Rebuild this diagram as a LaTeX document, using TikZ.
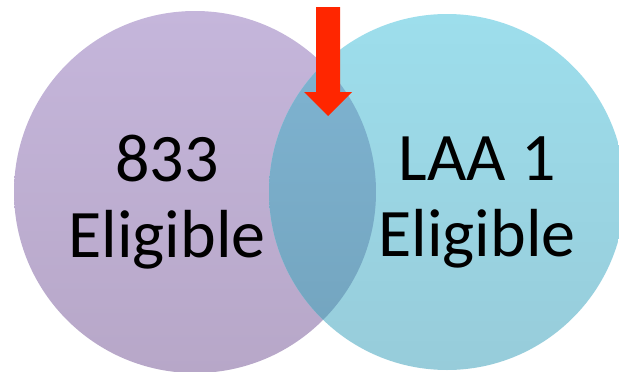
\documentclass[tikz,border=0pt]{standalone}
\usepackage{fontspec}
\setmainfont{Carlito}
\definecolor{violetHaut}{HTML}{C5B6DB}
\definecolor{violetBas}{HTML}{B7A7C8}
\definecolor{cyanHaut}{HTML}{9DDEEC}
\definecolor{cyanBas}{HTML}{97CCDA}
\definecolor{mixHaut}{HTML}{80B5D3}
\definecolor{mixBas}{HTML}{72A3BD}
\definecolor{flecheRouge}{HTML}{FF2600}
\tikzset{
  etiquette/.style={align=center, inner sep=0pt, text=black,
    font=\fontsize{68}{76}\selectfont}
}
\begin{document}
\begin{tikzpicture}[x=1pt,y=-1pt]

\def \RayonG {181pt}
\def \RayonD {178pt}
\coordinate (G) at (195,192);
\coordinate (D) at (447,192);
\useasboundingbox (0,0) rectangle (619,372);

% disque de gauche
\shade[top color=violetHaut, bottom color=violetBas] (G) circle (\RayonG);
% disque de droite
\shade[top color=cyanHaut, bottom color=cyanBas] (D) circle (\RayonD);
% zone commune
\begin{scope}
    \clip (G) circle (\RayonG);
    \shade[top color=mixHaut, bottom color=mixBas] (D) circle (\RayonD);
\end{scope}

% fleche rouge
\coordinate (F1) at (316,7);
\coordinate (F2) at (340,7);
\coordinate (F3) at (340,92);
\coordinate (F4) at (352,92);
\coordinate (Pointe) at (328,116);
\coordinate (F5) at (304,92);
\coordinate (F6) at (316,92);
\fill[flecheRouge] (F1) -- (F2) -- (F3) -- (F4) -- (Pointe) -- (F5) -- (F6) -- cycle;

% textes
\node[etiquette] (gauche) at (167,202) {833\\Eligible};
\node[etiquette] (droite) at (477,202) {LAA 1\\Eligible};

\end{tikzpicture}
\end{document}
